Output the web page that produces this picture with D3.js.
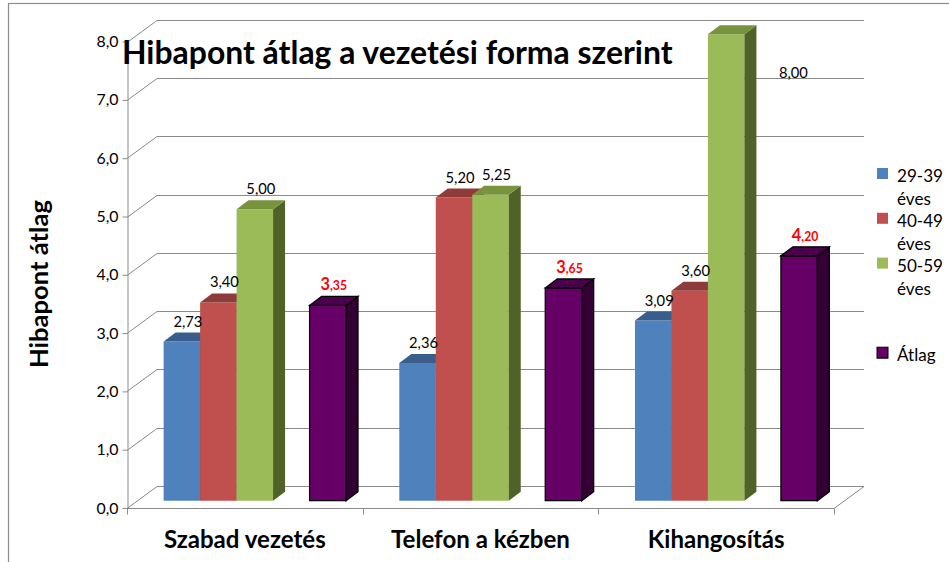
<!DOCTYPE html>
<html>
<head>
<meta charset="utf-8">
<script src="https://cdn.jsdelivr.net/npm/d3@7"></script>
<style>
  html, body { margin: 0; padding: 0; background: #fff; }
  svg { display: block; font-family: Lato, "Open Sans", sans-serif; }
</style>
</head>
<body>
<svg id="chart" width="949" height="562"></svg>
<script>
// ---- data ----
const categories = ["Szabad vezetés", "Telefon a kézben", "Kihangosítás"];
const seriesNames = ["29-39 éves", "40-49 éves", "50-59 éves", "", "Átlag"];
const values2939 = [2.73, 2.36, 3.09];
const values4049 = [3.40, 5.20, 3.60];
const values5059 = [5.00, 5.25, 8.00];
const valuesEmpty = [null, null, null];
const valuesAtlag = [3.35, 3.65, 4.20];
const yTicks = [0, 1, 2, 3, 4, 5, 6, 7, 8];
const title = "Hibapont átlag a vezetési forma szerint";
const yTitle = "Hibapont átlag";

const seriesValues = [values2939, values4049, values5059, valuesEmpty, valuesAtlag];
const fronts = ["#4F81BD", "#C0504D", "#9BBB59", "#000", "#660066"];
const tops   = ["#3A5E8C", "#8F3B39", "#77933C", "#000", "#4A004A"];
const sides  = ["#2C4A70", "#6E2C2A", "#4F6228", "#000", "#330033"];

const svg = d3.select("#chart");
const fmt2 = v => d3.format(".2f")(v).replace(".", ",");
const fmt1 = v => d3.format(".1f")(v).replace(".", ",");

// measure helper: font size so that `str` at given weight gets target width
function fitSize(str, target, weight, base) {
  const t = svg.append("text").attr("font-size", base).attr("font-weight", weight || "normal").text(str);
  const len = t.node().getComputedTextLength();
  t.remove();
  return len > 0 ? base * target / len : base;
}
const tickSize = fitSize("8,0", 22, "normal", 15);
const labelSize = fitSize("2,73", 29, "normal", 15);
const catSize = fitSize("Szabad vezetés", 162, "bold", 20);
const yTitleSize = fitSize(yTitle, 168, "bold", 20);
const legendSize = fitSize("29-39", 46, "normal", 16);
const titleSize = fitSize(title, 551, "bold", 29);
const avgBig = fitSize("3", 9.5, "bold", 15);

// geometry
const left = 127, right = 834;
const wallDX = 30, wallDY = -22;       // depth of the chart floor
const barOffX = 10, barOffY = -7.3;    // bar front plane inside the depth
const barDX = 12, barDY = -9;          // bar depth

const yFront = d3.scaleLinear().domain([0, 8]).range([508, 41.6]);
const yBar = v => yFront(v) + barOffY;

const x0 = d3.scaleBand().domain(categories).range([left, right]).paddingInner(0).paddingOuter(0);
const x1 = d3.scaleBand().domain(d3.range(seriesNames.length)).range([0, x0.bandwidth()]).paddingInner(0).paddingOuter(0.73);

// outer border
svg.append("rect").attr("x", 8.5).attr("y", 3.5).attr("width", 1000).attr("height", 600)
  .attr("fill", "none").attr("stroke", "#8c8c8c").attr("stroke-width", 1.2);

// gridlines: side wall diagonal + back wall horizontal
const grid = svg.append("g").attr("stroke", "#8a8a8a").attr("stroke-width", 1).attr("fill", "none");
yTicks.forEach(t => {
  const y = Math.round(yFront(t)) + 0.5;
  grid.append("path").attr("d", `M${left},${y} L${left + wallDX},${y + wallDY} L${right + wallDX},${y + wallDY}`);
});
// floor right edge
grid.append("path").attr("d", `M${right},508.5 L${right + wallDX},${508.5 + wallDY}`);

// y axis (front)
const yAxisG = svg.append("g").attr("transform", `translate(${left + 0.5},0)`)
  .call(d3.axisLeft(yFront).tickValues(yTicks).tickFormat(fmt1).tickSize(5).tickSizeOuter(0).tickPadding(4));
yAxisG.select(".domain").attr("stroke", "#8a8a8a");
yAxisG.selectAll(".tick line").attr("stroke", "#8a8a8a");
yAxisG.selectAll(".tick text").attr("font-family", "Lato, sans-serif").attr("font-size", tickSize).attr("fill", "#000");

// x axis (front)
const xAxisG = svg.append("g").attr("transform", `translate(0,508.5)`);
xAxisG.append("line").attr("x1", left).attr("x2", right).attr("stroke", "#8a8a8a");
const bounds = categories.map(c => x0(c)).concat([right]);
xAxisG.selectAll("line.tk").data(bounds).join("line").attr("class", "tk")
  .attr("x1", d => Math.round(d) + 0.5).attr("x2", d => Math.round(d) + 0.5)
  .attr("y1", 0).attr("y2", 6).attr("stroke", "#8a8a8a");
xAxisG.selectAll("text").data(categories).join("text")
  .attr("x", d => x0(d) + x0.bandwidth() / 2).attr("y", 39)
  .attr("text-anchor", "middle").attr("font-weight", "bold").attr("font-size", catSize).attr("fill", "#000")
  .text(d => d);

// bars
const barsG = svg.append("g");
const labelsG = svg.append("g");
categories.forEach((c, ci) => {
  seriesValues.forEach((vals, si) => {
    const v = vals[ci];
    if (v == null) return;
    const xl = x0(c) + x1(si) + barOffX;
    const w = x1.bandwidth();
    const xr = xl + w;
    const yt = yBar(v), yb = yBar(0);
    const isAvg = si === 4;
    const st = isAvg ? "#000" : "none";
    // front
    barsG.append("path").attr("d", `M${xl},${yt} L${xr},${yt} L${xr},${yb} L${xl},${yb} Z`)
      .attr("fill", fronts[si]).attr("stroke", st).attr("stroke-width", 1.2);
    // side
    barsG.append("path").attr("d", `M${xr},${yt} L${xr + barDX},${yt + barDY} L${xr + barDX},${yb + barDY} L${xr},${yb} Z`)
      .attr("fill", sides[si]).attr("stroke", st).attr("stroke-width", 1.2);
    // top
    barsG.append("path").attr("d", `M${xl},${yt} L${xl + barDX},${yt + barDY} L${xr + barDX},${yt + barDY} L${xr},${yt} Z`)
      .attr("fill", tops[si]).attr("stroke", st).attr("stroke-width", 1.2);

    // labels
    const cx = xl + w / 2 + barDX / 2;
    let ly = yt - 15;
    let lx = cx;
    if (ly < yFront(8)) { lx = xr + 49; ly = yFront(8) + 36; }
    if (isAvg) {
      const parts = fmt2(v).split(",");
      const t = labelsG.append("text").attr("x", lx).attr("y", ly).attr("text-anchor", "middle")
        .attr("fill", "#FF0000").attr("font-weight", "bold");
      t.append("tspan").attr("font-size", avgBig).text(parts[0]);
      t.append("tspan").attr("font-size", avgBig * 0.75).text("," + parts[1]);
    } else {
      labelsG.append("text").attr("x", lx).attr("y", ly).attr("text-anchor", "middle")
        .attr("fill", "#000").attr("font-size", labelSize).text(fmt2(v));
    }
  });
});

// title
svg.append("text").attr("x", 122).attr("y", 64).attr("font-weight", "bold").attr("font-size", titleSize)
  .attr("fill", "#000").text(title);

// y title
svg.append("text").attr("transform", "translate(48,284) rotate(-90)").attr("text-anchor", "middle")
  .attr("font-weight", "bold").attr("font-size", yTitleSize).attr("fill", "#000").text(yTitle);

// legend
const legend = svg.append("g");
seriesNames.forEach((name, i) => {
  if (!name) return;
  const y0 = 168 + i * 44.8;
  legend.append("rect").attr("x", 877).attr("y", y0).attr("width", 11).attr("height", 11)
    .attr("fill", fronts[i]).attr("stroke", i === 4 ? "#000" : "none").attr("stroke-width", 1);
  const words = name.split(" ");
  const t = legend.append("text").attr("font-size", legendSize).attr("fill", "#000");
  words.forEach((wd, wi) => {
    t.append("tspan").attr("x", 897).attr("y", y0 + 14 + wi * 23).text(wd);
  });
});
</script>
</body>
</html>
